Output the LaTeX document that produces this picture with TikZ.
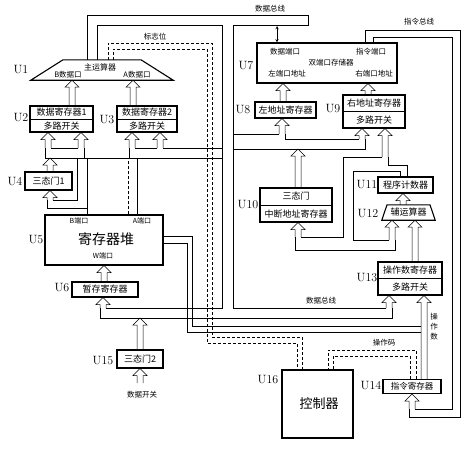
\documentclass[tikz,border=0pt]{standalone}
\usepackage{fontspec}
\newfontfamily\cjk{Noto Sans CJK SC}
\usetikzlibrary{calc}

% wide open arrow, drawn upwards from the level of #1 to the tip #2
\newcommand\harrow[2]{%
  \draw[hol] let \p1=#1, \p2=#2 in
    (\x2-3pt,\y1) -- (\x2-3pt,\y2-7pt) -- (\x2-7pt,\y2-7pt) -- (\x2,\y2)
    -- (\x2+7pt,\y2-7pt) -- (\x2+3pt,\y2-7pt) -- (\x2+3pt,\y1);}

\begin{document}
\begin{tikzpicture}[x=1pt,y=-1pt,
  box/.style={draw,line width=1.1pt,inner sep=0pt},
  hol/.style={line width=0.5pt},
  bus/.style={line width=0.5pt},
  flag/.style={line width=0.5pt,densely dashed},
  txt/.style={font=\cjk\fontsize{9}{10}\selectfont,inner sep=0pt},
  small/.style={font=\cjk\fontsize{7.5}{9}\selectfont,inner sep=0pt},
  utag/.style={font=\fontsize{12}{12}\selectfont,inner sep=0pt}]
\useasboundingbox (0,0) rectangle (472,450);

% left half
\node (u1) at (102,70) [inner sep=0pt,minimum width=142pt,minimum height=20pt] {};
\draw[line width=1.1pt] (u1.south west) -- (63,0 |- u1.north) -- (141,0 |- u1.north) -- (u1.south east) -- cycle;
\node (u1a) at (100,67) [small,font=\cjk\fontsize{8}{9}\selectfont] {主运算器};
\node (u1b) at (68,75) [small] {B数据口};
\node (u1c) at (137,75) [small] {A数据口};

\node (u2) at (61.5,119) [box,minimum width=63pt,minimum height=26pt] {};
\draw[line width=0.6pt] (u2.west) -- (u2.east);
\node (u2a) at ($(u2.north)!0.25!(u2.south)$) [txt] {数据寄存器1};
\node (u2b) at ($(u2.north)!0.75!(u2.south)$) [txt] {多路开关};

\node (u3) at (147,119) [box,minimum width=60pt,minimum height=26pt] {};
\draw[line width=0.6pt] (u3.west) -- (u3.east);
\node (u3a) at ($(u3.north)!0.25!(u3.south)$) [txt] {数据寄存器2};
\node (u3b) at ($(u3.north)!0.75!(u3.south)$) [txt] {多路开关};

\node (u4) at (48.5,181) [box,minimum width=47pt,minimum height=18pt] {};
\node (u4a) at (u4) [txt] {三态门1};

\node (u5) at (104,240) [box,minimum width=118pt,minimum height=50pt] {};
\node (u5a) at (79,221) [small,font=\cjk\fontsize{7}{8}\selectfont] {B端口};
\node (u5b) at (142,221) [small,font=\cjk\fontsize{7}{8}\selectfont] {A端口};
\node (u5c) at (106,239) [txt,font=\cjk\fontsize{14}{15}\selectfont] {寄存器堆};
\node (u5d) at (103,256) [small,font=\cjk\fontsize{7}{8}\selectfont] {W端口};

\node (u6) at (105,289.5) [box,minimum width=66pt,minimum height=15pt] {};
\node (u6a) at (u6) [txt] {暂存寄存器};

\node (u15) at (140,359) [box,minimum width=46pt,minimum height=18pt] {};
\node (u15a) at (u15) [txt] {三态门2};
\node (k1) at (142,395) [small] {数据开关};

% right half
\node (u7) at (327,63) [box,minimum width=140pt,minimum height=40pt] {};
\node (u7a) at (285,52) [small] {数据端口};
\node (u7b) at (371,52) [small] {指令端口};
\node (u7c) at (331,63) [small] {双端口存储器};
\node (u7d) at (287,74) [small] {左端口地址};
\node (u7e) at (374,74) [small] {右端口地址};

\node (u8) at (285.5,110) [box,minimum width=61pt,minimum height=16pt] {};
\node (u8a) at (u8) [txt] {左地址寄存器};

\node (u9) at (374,111.5) [box,minimum width=62pt,minimum height=33pt] {};
\draw[line width=0.6pt] (u9.west) -- (u9.east);
\node (u9a) at ($(u9.north)!0.25!(u9.south)$) [txt] {右地址寄存器};
\node (u9b) at ($(u9.north)!0.75!(u9.south)$) [txt] {多路开关};

\node (u10) at (296,205) [box,minimum width=72pt,minimum height=34pt] {};
\draw[line width=0.6pt] (u10.west) -- (u10.east);
\node (u10a) at ($(u10.north)!0.25!(u10.south)$) [txt] {三态门};
\node (u10b) at ($(u10.north)!0.75!(u10.south)$) [txt] {中断地址寄存器};

\node (u11) at (405.5,185) [box,minimum width=55pt,minimum height=16pt] {};
\node (u11a) at (u11) [txt] {程序计数器};

\node (u12) at (408.5,212.5) [inner sep=0pt,minimum width=53pt,minimum height=15pt] {};
\draw[line width=1.1pt] (u12.south west) -- (387,0 |- u12.north) -- (430,0 |- u12.north) -- (u12.south east) -- cycle;
\node (u12a) at (u12) [txt] {辅运算器};

\node (u13) at (410,278.5) [box,minimum width=64pt,minimum height=33pt] {};
\draw[line width=0.6pt] (u13.west) -- (u13.east);
\node (u13a) at ($(u13.north)!0.25!(u13.south)$) [txt] {操作数寄存器};
\node (u13b) at ($(u13.north)!0.75!(u13.south)$) [txt] {多路开关};

\node (u14) at (412,386.5) [box,minimum width=58pt,minimum height=14pt] {};
\node (u14a) at (u14) [txt,font=\cjk\fontsize{8.5}{9}\selectfont] {指令寄存器};

\node (u16) at (317.5,404) [box,minimum width=71pt,minimum height=68pt] {};
\node (u16a) at (319,404) [txt,font=\cjk\fontsize{13}{14}\selectfont] {控制器};

% unit tags
\node (n1) at (21,70) [utag] {U1};
\node (n2) at (21,118) [utag] {U2};
\node (n3) at (107,120) [utag] {U3};
\node (n4) at (15,182) [utag] {U4};
\node (n5) at (36,240) [utag] {U5};
\node (n6) at (62,288) [utag] {U6};
\node (n7) at (246,66) [utag] {U7};
\node (n8) at (243,110) [utag] {U8};
\node (n9) at (333,109) [utag] {U9};
\node (n10) at (248,205) [utag] {U10};
\node (n11) at (367,185) [utag] {U11};
\node (n12) at (368,214) [utag] {U12};
\node (n13) at (367,278) [utag] {U13};
\node (n14) at (371,386) [utag] {U14};
\node (n15) at (103,361) [utag] {U15};
\node (n16) at (268,380) [utag] {U16};

% bus names
\node (b1) at (270,9) [small] {数据总线};
\node (b2) at (419,22) [small] {指令总线};
\node (b3) at (155,37) [small] {标志位};
\node (b4) at (321,301) [small] {数据总线};
\node (b5) at (384,343) [small] {操作码};
\node (b6) at (434,327) [small,align=center] {操\\[1pt]作\\[1pt]数};

% wide arrows
\harrow{(72,0 |- u2.north)}{(72,0 |- u1.south)}
\harrow{(133,0 |- u3.north)}{(133,0 |- u1.south)}
\harrow{(48,148)}{(48,0 |- u2.south)}
\harrow{(81,148)}{(81,0 |- u2.south)}
\harrow{(132,148)}{(132,0 |- u3.south)}
\harrow{(160,148)}{(160,0 |- u3.south)}
\harrow{(50,0 |- u4.north)}{(50,158)}
\harrow{(50,200)}{(50,0 |- u4.south)}
\harrow{(u6.north)}{(u5.south)}
\harrow{(103,308)}{(103,0 |- u6.south)}
\harrow{(u15.north)}{(140,318)}
\harrow{(140,383)}{(u15.south)}
\harrow{(283,0 |- u8.north)}{(283,0 |- u7.south)}
\harrow{(368,0 |- u9.north)}{(368,0 |- u7.south)}
\harrow{(282,134)}{(282,0 |- u8.south)}
\harrow{(362,139)}{(362,0 |- u9.south)}
\harrow{(385,157)}{(385,0 |- u9.south)}
\harrow{(298,0 |- u10.north)}{(298,149)}
\harrow{(298,237)}{(298,0 |- u10.south)}
\harrow{(403,0 |- u12.north)}{(403,0 |- u11.south)}
\harrow{(392,240)}{(392,0 |- u12.south)}
\harrow{(415,0 |- u13.north)}{(415,0 |- u12.south)}
\harrow{(389,308)}{(389,0 |- u13.south)}
\harrow{(424,0 |- u14.north)}{(424,0 |- u13.south)}
\harrow{(412,409)}{(412,0 |- u14.south)}

% data bus
\draw[bus] (87,0 |- u1.north) -- (87,15) -- (308,15) -- (308,25) -- (233,25) -- (233,308) -- (386,308);
\draw[bus] (97,0 |- u1.north) -- (97,25) -- (222,25) -- (222,308) -- (106,308);
\draw[bus] (100,308) -- (100,318) -- (392,318) -- (392,308);
\draw[<->,>=stealth,line width=0.5pt] (277,26) -- (277,0 |- u7.north);
\draw[bus] (45,148) -- (45,158) -- (222,158);
\draw[bus] (51,148) -- (78,148);
\draw[bus] (84,148) -- (84,158);
\draw[bus] (129,148) -- (129,158);
\draw[bus] (135,148) -- (157,148);
\draw[bus] (163,148) -- (222,148);
\draw[bus] (87,0 |- u5.north) -- (87,158);
\draw[bus] (87,208) -- (47,208) -- (47,200);
\draw[bus] (53,200) -- (77,200) -- (77,158);
\draw[flag] (128,0 |- u5.north) -- (128,158);
\draw[bus] (137,0 |- u5.north) -- (137,158);
\draw[bus] (u5.east |- 0,236) -- (192,236) -- (192,326) -- (421,326);
\draw[bus] (u5.east |- 0,243) -- (187,243) -- (187,332) -- (421,332);
\draw[bus] (233,134) -- (279,134);
\draw[bus] (285,134) -- (285,139) -- (359,139);
\draw[bus] (365,139) -- (365,149) -- (233,149);
\draw[bus] (382,157) -- (343,157) -- (343,237) -- (301,237);
\draw[bus] (388,157) -- (388,165) -- (407,165) -- (407,0 |- u11.north);
\draw[bus] (400,0 |- u11.north) -- (400,171) -- (353,171) -- (353,240) -- (389,240);
\draw[bus] (395,240) -- (395,250) -- (295,250) -- (295,237);

% flags
\draw[flag] (108,0 |- u1.north) -- (108,43) -- (212,43) -- (212,337) -- (302,337) -- (302,0 |- u16.north);
\draw[flag] (113,0 |- u1.north) -- (113,49) -- (207,49) -- (207,343) -- (297,343) -- (297,0 |- u16.north);

% instruction bus
\draw[bus] (365,0 |- u7.north) -- (365,30) -- (460,30) -- (460,417) -- (409,417) -- (409,409);
\draw[bus] (373,0 |- u7.north) -- (373,37) -- (452,37) -- (452,409) -- (415,409);

% opcode
\draw[flag] (416,0 |- u14.north) -- (416,350) -- (328,350) -- (328,0 |- u16.north);
\draw[flag] (410,0 |- u14.north) -- (410,356) -- (333,356) -- (333,0 |- u16.north);
\end{tikzpicture}
\end{document}
